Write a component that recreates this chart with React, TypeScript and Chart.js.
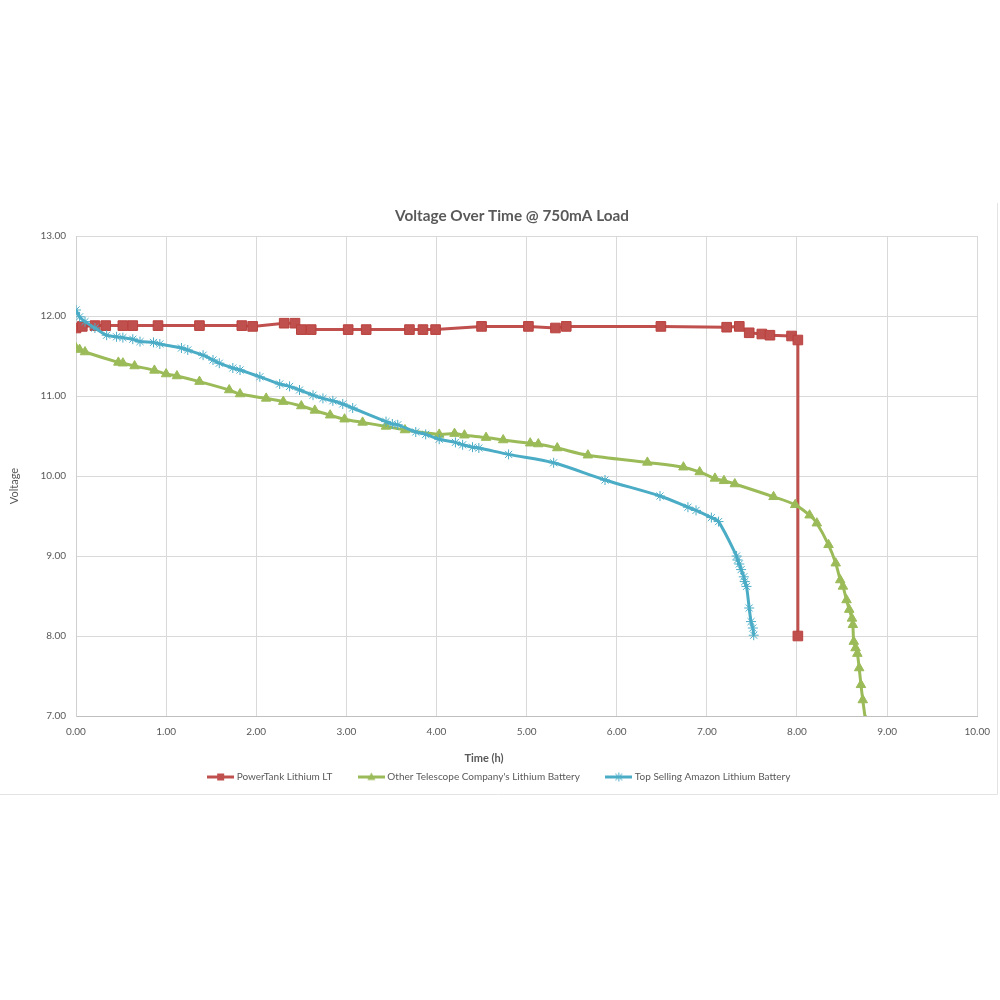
import React, { useEffect, useRef } from "react";
import { Chart, registerables } from "chart.js";

Chart.register(...registerables);

const TITLE = "Voltage Over Time @ 750mA Load";
const X_TITLE = "Time (h)";
const Y_TITLE = "Voltage";
const SERIES_NAMES = [
  "PowerTank Lithium LT",
  "Other Telescope Company's Lithium Battery",
  "Top Selling Amazon Lithium Battery",
];
const SERIES_COLORS = ["#C0504D", "#9BBB59", "#4BACC6"];

const X_MIN = 0;
const X_MAX = 10;
const Y_MIN = 7;
const Y_MAX = 13;

// PowerTank Lithium LT
const redX = [0.0, 0.07, 0.21, 0.33, 0.52, 0.63, 0.91, 1.37, 1.84, 1.96, 2.31, 2.43, 2.5, 2.61, 3.02, 3.22, 3.7, 3.85, 3.99, 4.5, 5.02, 5.32, 5.44, 6.49, 7.22, 7.36, 7.47, 7.61, 7.7, 7.94, 8.01, 8.01];
const redY = [11.85, 11.87, 11.88, 11.88, 11.88, 11.88, 11.88, 11.88, 11.88, 11.87, 11.91, 11.91, 11.83, 11.83, 11.83, 11.83, 11.83, 11.83, 11.83, 11.87, 11.87, 11.85, 11.87, 11.87, 11.86, 11.87, 11.79, 11.775, 11.76, 11.75, 11.7, 8.0];

// Other Telescope Company's Lithium Battery
const greenX = [0.0, 0.04, 0.1, 0.47, 0.52, 0.65, 0.87, 1.0, 1.12, 1.37, 1.7, 1.82, 2.11, 2.3, 2.5, 2.65, 2.82, 2.98, 3.18, 3.44, 3.65, 4.03, 4.2, 4.31, 4.55, 4.74, 5.04, 5.13, 5.34, 5.68, 6.34, 6.74, 6.92, 7.09, 7.19, 7.31, 7.74, 7.98, 8.14, 8.22, 8.35, 8.43, 8.48, 8.51, 8.55, 8.58, 8.61, 8.62, 8.63, 8.65, 8.67, 8.69, 8.71, 8.73, 8.76];
const greenY = [11.6, 11.58, 11.55, 11.42, 11.41, 11.375, 11.32, 11.275, 11.25, 11.18, 11.075, 11.025, 10.97, 10.93, 10.875, 10.82, 10.76, 10.71, 10.67, 10.62, 10.575, 10.52, 10.53, 10.51, 10.48, 10.45, 10.41, 10.4, 10.35, 10.26, 10.17, 10.11, 10.05, 9.97, 9.94, 9.9, 9.74, 9.64, 9.51, 9.41, 9.14, 8.91, 8.7, 8.62, 8.45, 8.33, 8.22, 8.14, 7.93, 7.85, 7.78, 7.6, 7.39, 7.2, 6.95];

// Top Selling Amazon Lithium Battery
const blueX = [0.0, 0.04, 0.1, 0.21, 0.34, 0.45, 0.52, 0.63, 0.71, 0.86, 0.93, 1.17, 1.24, 1.41, 1.52, 1.59, 1.74, 1.82, 2.04, 2.26, 2.37, 2.48, 2.63, 2.74, 2.85, 2.96, 3.07, 3.44, 3.51, 3.57, 3.77, 3.88, 4.03, 4.21, 4.29, 4.4, 4.47, 4.8, 5.3, 5.87, 6.48, 6.79, 6.88, 7.05, 7.13, 7.33, 7.34, 7.36, 7.38, 7.41, 7.42, 7.44, 7.47, 7.49, 7.51, 7.52];
const blueY = [12.075, 11.99, 11.93, 11.85, 11.76, 11.74, 11.73, 11.71, 11.68, 11.67, 11.65, 11.6, 11.575, 11.51, 11.45, 11.41, 11.35, 11.325, 11.24, 11.15, 11.12, 11.075, 11.01, 10.97, 10.94, 10.9, 10.85, 10.68, 10.65, 10.64, 10.55, 10.52, 10.46, 10.42, 10.39, 10.36, 10.35, 10.27, 10.165, 9.95, 9.75, 9.61, 9.57, 9.48, 9.43, 9.0, 8.95, 8.9, 8.83, 8.74, 8.68, 8.62, 8.35, 8.18, 8.1, 8.01];

const FONT = "Lato, 'Open Sans', sans-serif";
const TEXT_COLOR = "#595959";

const toPoints = (xs: number[], ys: number[]) => xs.map((x, i) => ({ x, y: ys[i] }));

function legendImage(color: string, kind: string): HTMLCanvasElement {
  const c = document.createElement("canvas");
  c.width = 27;
  c.height = 11;
  const ctx = c.getContext("2d")!;
  ctx.strokeStyle = color;
  ctx.lineWidth = 3;
  ctx.beginPath();
  ctx.moveTo(0, 5.5);
  ctx.lineTo(27, 5.5);
  ctx.stroke();
  ctx.fillStyle = color;
  if (kind === "rect") {
    ctx.fillRect(10, 2, 7, 7);
  } else if (kind === "triangle") {
    ctx.beginPath();
    ctx.moveTo(13.5, 1);
    ctx.lineTo(17.5, 8.5);
    ctx.lineTo(9.5, 8.5);
    ctx.closePath();
    ctx.fill();
  } else {
    ctx.lineWidth = 1;
    ctx.beginPath();
    ctx.moveTo(10, 2);
    ctx.lineTo(17, 9);
    ctx.moveTo(17, 2);
    ctx.lineTo(10, 9);
    ctx.moveTo(13.5, 1);
    ctx.lineTo(13.5, 10);
    ctx.stroke();
  }
  return c;
}

const textPlugin = {
  id: "textPlugin",
  beforeDraw(chart: any) {
    const ctx = chart.ctx;
    ctx.save();
    ctx.strokeStyle = "#E4E4E4";
    ctx.lineWidth = 1;
    ctx.beginPath();
    ctx.moveTo(0, 794.5);
    ctx.lineTo(997.5, 794.5);
    ctx.moveTo(997.5, 203);
    ctx.lineTo(997.5, 794.5);
    ctx.stroke();
    ctx.restore();
  },
  afterDraw(chart: any) {
    const ctx = chart.ctx;
    const area = chart.chartArea;
    ctx.save();
    ctx.fillStyle = TEXT_COLOR;
    ctx.textAlign = "center";
    ctx.textBaseline = "middle";
    ctx.font = `bold 15.3px ${FONT}`;
    ctx.fillText(TITLE, 512, area.top - 20);
    ctx.font = `bold 11px ${FONT}`;
    ctx.fillText(X_TITLE, 484, area.bottom + 42);
    ctx.font = `11px ${FONT}`;
    ctx.translate(14, 486);
    ctx.rotate(-Math.PI / 2);
    ctx.fillText(Y_TITLE, 0, 0);
    ctx.restore();
  },
};

export default function App() {
  const ref = useRef<HTMLCanvasElement | null>(null);

  useEffect(() => {
    if (!ref.current) return;
    const kinds = ["rect", "triangle", "star"];
    const images = SERIES_COLORS.map((c, i) => legendImage(c, kinds[i]));
    const chart = new Chart(ref.current, {
      type: "line",
      data: {
        datasets: [
          {
            label: SERIES_NAMES[0],
            data: toPoints(redX, redY),
            borderColor: SERIES_COLORS[0],
            backgroundColor: SERIES_COLORS[0],
            borderWidth: 3,
            pointStyle: "rect",
            pointRadius: 6.8,
            pointBackgroundColor: SERIES_COLORS[0],
            pointBorderColor: "#B9413E",
            pointBorderWidth: 1,
            tension: 0,
            order: 3,
          },
          {
            label: SERIES_NAMES[1],
            data: toPoints(greenX, greenY),
            borderColor: SERIES_COLORS[1],
            backgroundColor: SERIES_COLORS[1],
            borderWidth: 3,
            pointStyle: "triangle",
            pointRadius: 5.5,
            pointBackgroundColor: SERIES_COLORS[1],
            pointBorderColor: SERIES_COLORS[1],
            pointBorderWidth: 1,
            tension: 0.3,
            order: 2,
          },
          {
            label: SERIES_NAMES[2],
            data: toPoints(blueX, blueY),
            borderColor: SERIES_COLORS[2],
            backgroundColor: SERIES_COLORS[2],
            borderWidth: 3,
            pointStyle: "star",
            pointRadius: 5,
            pointBackgroundColor: "rgba(0,0,0,0)",
            pointBorderColor: SERIES_COLORS[2],
            pointBorderWidth: 1,
            tension: 0.3,
            order: 1,
          },
        ],
      },
      options: {
        responsive: false,
        animation: false,
        devicePixelRatio: 1,
        layout: { padding: { top: 236, left: 0, right: 0, bottom: 208 } },
        plugins: {
          title: { display: false },
          tooltip: { enabled: false },
          legend: {
            display: true,
            position: "bottom",
            align: "center",
            labels: {
              usePointStyle: true,
              pointStyleWidth: 22,
              padding: 28,
              color: TEXT_COLOR,
              font: { family: FONT, size: 10 },
              generateLabels: (ch: any) =>
                ch.data.datasets.map((ds: any, i: number) => ({
                  text: ds.label,
                  fillStyle: "rgba(0,0,0,0)",
                  strokeStyle: "rgba(0,0,0,0)",
                  lineWidth: 0,
                  pointStyle: images[i],
                  datasetIndex: i,
                  hidden: false,
                  fontColor: TEXT_COLOR,
                })),
            },
          },
        },
        scales: {
          x: {
            type: "linear",
            min: X_MIN,
            max: X_MAX,
            afterFit: (s: any) => {
              s.height = 28;
            },
            grid: { color: "#D9D9D9", drawTicks: false, lineWidth: 1 },
            border: { color: "#BFBFBF", width: 1 },
            ticks: {
              stepSize: 1,
              padding: 10,
              color: TEXT_COLOR,
              font: { family: FONT, size: 10 },
              maxRotation: 0,
              callback: (v: any) => Number(v).toFixed(2),
            },
          },
          y: {
            type: "linear",
            min: Y_MIN,
            max: Y_MAX,
            afterFit: (s: any) => {
              s.width = 76;
            },
            grid: { color: "#D9D9D9", drawTicks: false, lineWidth: 1 },
            border: { color: "#D0D0D0", width: 1 },
            ticks: {
              stepSize: 1,
              padding: 10,
              color: TEXT_COLOR,
              font: { family: FONT, size: 10 },
              callback: (v: any) => Number(v).toFixed(2),
            },
          },
          yRight: {
            type: "linear",
            position: "right",
            display: true,
            afterFit: (s: any) => {
              s.width = 19;
            },
            grid: { display: false, drawTicks: false },
            border: { display: false },
            ticks: { display: false },
          },
        },
      },
      plugins: [textPlugin],
    });
    return () => chart.destroy();
  }, []);

  return (
    <div style={{ position: "absolute", left: 0, top: 0, width: 1000, height: 1000, background: "#fff" }}>
      <canvas ref={ref} width={1000} height={1000} style={{ width: 1000, height: 1000 }} />
    </div>
  );
}
